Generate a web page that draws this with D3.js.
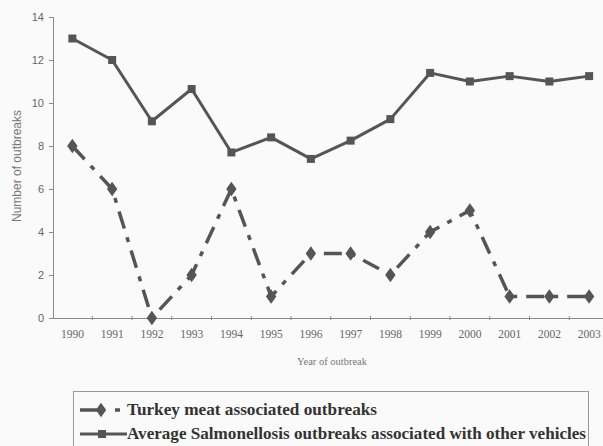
<!DOCTYPE html>
<html>
<head>
<meta charset="utf-8">
<script src="https://cdn.jsdelivr.net/npm/d3@7"></script>
<style>
  html, body { margin: 0; padding: 0; background: #fafafa; }
  svg { display: block; }
</style>
</head>
<body>
<svg id="chart" width="603" height="446"></svg>
<script>
// Outbreak counts per year
const years = ["1990","1991","1992","1993","1994","1995","1996","1997","1998","1999","2000","2001","2002","2003"];
const turkeyOutbreaks = [8, 6, 0, 2, 6, 1, 3, 3, 2, 4, 5, 1, 1, 1];
const otherVehicleAverage = [13, 12, 9.15, 10.65, 7.7, 8.4, 7.4, 8.25, 9.25, 11.4, 11.0, 11.25, 11.0, 11.25];
const yTicks = [0, 2, 4, 6, 8, 10, 12, 14];
const seriesNames = ["Turkey meat associated outbreaks", "Average Salmonellosis outbreaks associated with other vehicles"];

const SERIF = "'Liberation Serif', 'Times New Roman', 'DejaVu Serif', serif";
const SANS = "'Liberation Sans', Arial, 'DejaVu Sans', sans-serif";

const svg = d3.select("#chart");
const ink = "#555";
const axisGrey = "#8a8a8a";

const x = d3.scaleBand().domain(years).range([52.5, 609]).paddingInner(0).paddingOuter(0);
const cx = d => x(d) + x.bandwidth() / 2;
const y = d3.scaleLinear().domain([0, 14]).range([318, 17]);

// Y axis
const yAxis = svg.append("g")
  .attr("transform", "translate(53,0)")
  .call(d3.axisLeft(y).tickValues(yTicks).tickSize(4).tickPadding(5).tickFormat(d3.format("d")));
yAxis.select(".domain").attr("stroke", axisGrey).attr("stroke-width", 1);
yAxis.selectAll(".tick line").attr("stroke", axisGrey);
yAxis.selectAll(".tick text")
  .style("font-family", SANS)
  .style("font-size", "11px")
  .attr("fill", "#666");

// X axis: labels centred in each year band, tick marks on the band edges
const xAxis = svg.append("g")
  .attr("transform", "translate(0,318)")
  .call(d3.axisBottom(x).tickSize(0).tickPadding(12));
xAxis.select(".domain").attr("stroke", axisGrey).attr("stroke-width", 1);
xAxis.selectAll(".tick text")
  .style("font-family", SERIF)
  .style("font-size", "11.5px")
  .attr("fill", "#666");
xAxis.selectAll(".edge")
  .data(years.slice(1))
  .join("line")
  .attr("class", "edge")
  .attr("x1", d => x(d)).attr("x2", d => x(d))
  .attr("y1", -2).attr("y2", 2)
  .attr("stroke", axisGrey);

// Axis titles
svg.append("text")
  .attr("x", 332).attr("y", 365)
  .attr("text-anchor", "middle")
  .attr("fill", "#777")
  .style("font-family", SERIF)
  .style("font-size", "10.5px")
  .text("Year of outbreak");

svg.append("text")
  .attr("transform", "translate(21,166) rotate(-90)")
  .attr("text-anchor", "middle")
  .attr("fill", "#777")
  .style("font-family", SANS)
  .style("font-size", "12px")
  .text("Number of outbreaks");

const line = d3.line().x((d, i) => cx(years[i])).y(d => y(d));

// Average outbreaks from other vehicles: solid line, square markers
svg.append("path")
  .datum(otherVehicleAverage)
  .attr("d", line)
  .attr("fill", "none")
  .attr("stroke", ink)
  .attr("stroke-width", 3)
  .attr("stroke-linejoin", "round");
svg.selectAll(".sq")
  .data(otherVehicleAverage)
  .join("rect")
  .attr("class", "sq")
  .attr("x", (d, i) => cx(years[i]) - 4)
  .attr("y", d => y(d) - 4)
  .attr("width", 8).attr("height", 8)
  .attr("fill", ink);

// Turkey meat outbreaks: dash-dot line, diamond markers
svg.append("path")
  .datum(turkeyOutbreaks)
  .attr("d", line)
  .attr("fill", "none")
  .attr("stroke", ink)
  .attr("stroke-width", 3.5)
  .attr("stroke-dasharray", "18,9,5,9");
const diamond = d3.symbol().type(d3.symbolDiamond).size(60);
svg.selectAll(".dm")
  .data(turkeyOutbreaks)
  .join("path")
  .attr("class", "dm")
  .attr("d", diamond)
  .attr("transform", (d, i) => `translate(${cx(years[i])},${y(d)}) scale(1.25,1)`)
  .attr("fill", ink);

// Legend
const lg = svg.append("g");
lg.append("rect")
  .attr("x", 73.5).attr("y", 391.5)
  .attr("width", 515).attr("height", 70)
  .attr("fill", "none")
  .attr("stroke", "#999")
  .attr("stroke-width", 1);

// entry 1 symbol
lg.append("line").attr("x1", 80).attr("x2", 97).attr("y1", 410).attr("y2", 410)
  .attr("stroke", ink).attr("stroke-width", 3.5);
lg.append("path").attr("d", diamond).attr("transform", "translate(101,410) scale(1.25,1)").attr("fill", ink);
lg.append("line").attr("x1", 115).attr("x2", 120).attr("y1", 410).attr("y2", 410)
  .attr("stroke", ink).attr("stroke-width", 3.5);

// entry 2 symbol
lg.append("line").attr("x1", 80).attr("x2", 127).attr("y1", 434).attr("y2", 434)
  .attr("stroke", ink).attr("stroke-width", 3);
lg.append("rect").attr("x", 98).attr("y", 430).attr("width", 8).attr("height", 8).attr("fill", ink);

const legendText = [
  { y: 415, len: 250 },
  { y: 439, len: 459 }
];
lg.selectAll(".lt")
  .data(seriesNames)
  .join("text")
  .attr("class", "lt")
  .attr("x", 127)
  .attr("y", (d, i) => legendText[i].y)
  .attr("textLength", (d, i) => legendText[i].len)
  .attr("lengthAdjust", "spacingAndGlyphs")
  .attr("fill", "#333")
  .style("font-family", SERIF)
  .style("font-size", "17px")
  .style("font-weight", "bold")
  .text(d => d);
</script>
</body>
</html>
